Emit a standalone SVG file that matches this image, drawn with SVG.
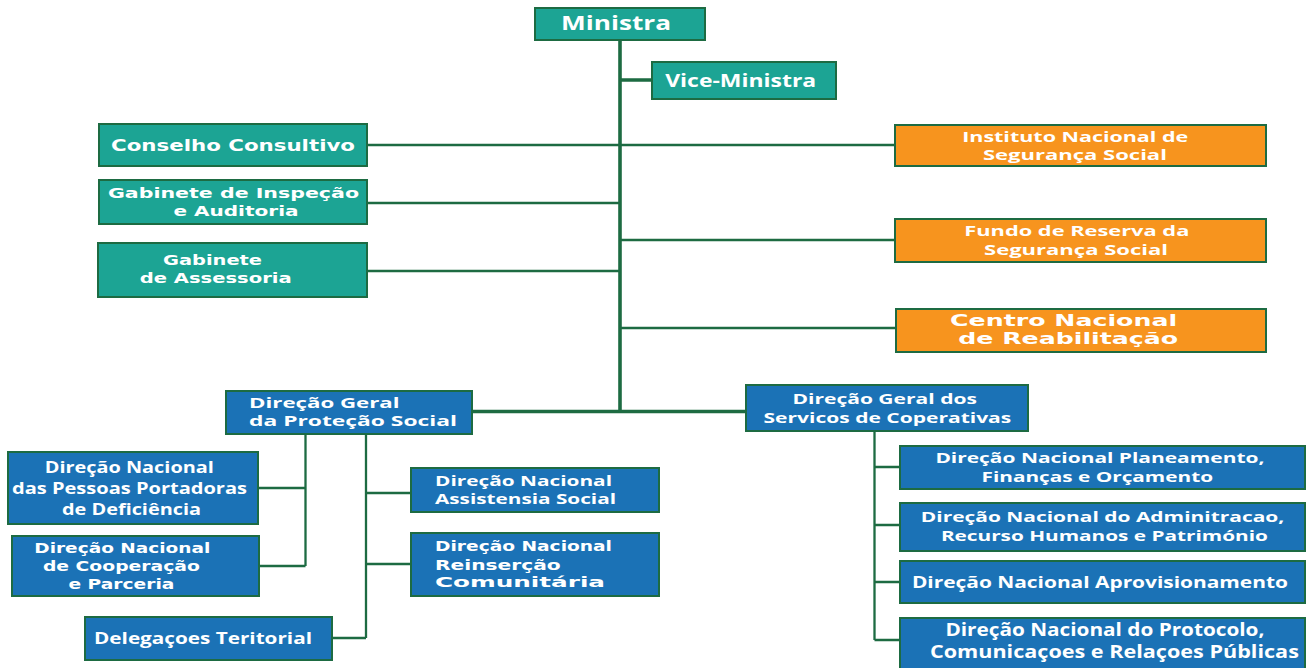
<svg xmlns="http://www.w3.org/2000/svg" width="1307" height="668" viewBox="0 0 1307 668">
<style>
.bx{stroke:#1d6b42;stroke-width:2}
.tl{fill:#1ca494}
.or{fill:#f7941e}
.bl{fill:#1b72b6}
.ln{stroke:#1d6b42;fill:none}
.thin{stroke-width:2.3}
.thick{stroke-width:3.6}
text{fill:#ffffff;font-weight:bold}
.c{font-family:"Open Sans","Liberation Sans",sans-serif;font-size:15px}
.v{font-family:"DejaVu Sans","Liberation Sans",sans-serif;font-size:14px}
.m{text-anchor:middle}
</style>
<rect width="1307" height="668" fill="#ffffff"/>
<g id="connectors">
<path class="ln thick" d="M620,40 V413 M620,80 H652 M472,411.5 H746"/>
<path class="ln thin" d="M367,145 H895 M367,203 H620 M620,240 H895 M367,271 H620 M620,328 H896"/>
<path class="ln thin" d="M305.5,434 V566 M258,488 H305.5 M259,566 H305.5 M366,434 V638 M366,493 H411 M366,564 H411 M332,638 H366"/>
<path class="ln thin" d="M874.5,431 V640 M874.5,467 H900 M874.5,525 H900 M874.5,582 H900 M874.5,640 H900"/>
</g>
<g id="ministra"><rect class="bx tl" x="535" y="8" width="170" height="32"/><text class="c m" x="616" y="30" style="font-size:19px" textLength="110" lengthAdjust="spacingAndGlyphs">Ministra</text></g>
<g id="vice-ministra"><rect class="bx tl" x="652" y="62" width="184" height="37"/><text class="c m" x="740.7" y="87" style="font-size:17px" textLength="151" lengthAdjust="spacingAndGlyphs">Vice-Ministra</text></g>
<g id="conselho"><rect class="bx tl" x="99" y="124" width="268" height="42"/><text class="v m" x="233" y="150.5" style="font-size:15.5px" textLength="244" lengthAdjust="spacingAndGlyphs">Conselho Consultivo</text></g>
<g id="gabinete-inspecao"><rect class="bx tl" x="99" y="180" width="268" height="44"/><text class="v m" x="233.5" y="197.5" textLength="251" lengthAdjust="spacingAndGlyphs">Gabinete de Inspeção</text><text class="v m" x="236" y="216" textLength="125" lengthAdjust="spacingAndGlyphs">e Auditoria</text></g>
<g id="gabinete-assessoria"><rect class="bx tl" x="98" y="243" width="269" height="54"/><text class="v m" x="212.5" y="264.5" textLength="99" lengthAdjust="spacingAndGlyphs">Gabinete</text><text class="v m" x="215.7" y="283" textLength="152" lengthAdjust="spacingAndGlyphs">de Assessoria</text></g>
<g id="instituto"><rect class="bx or" x="895" y="125" width="371" height="41"/><text class="c m" x="1075.2" y="141.5" textLength="226" lengthAdjust="spacingAndGlyphs">Instituto Nacional de</text><text class="c m" x="1074.9" y="160" textLength="184" lengthAdjust="spacingAndGlyphs">Segurança Social</text></g>
<g id="fundo"><rect class="bx or" x="895" y="219" width="371" height="43"/><text class="c m" x="1076.8" y="236" textLength="225" lengthAdjust="spacingAndGlyphs">Fundo de Reserva da</text><text class="c m" x="1076" y="255" textLength="184" lengthAdjust="spacingAndGlyphs">Segurança Social</text></g>
<g id="centro"><rect class="bx or" x="896" y="309" width="370" height="43"/><text class="v m" x="1063.6" y="326" style="font-size:15px" textLength="227" lengthAdjust="spacingAndGlyphs">Centro Nacional</text><text class="v m" x="1068.2" y="344" style="font-size:15px" textLength="220" lengthAdjust="spacingAndGlyphs">de Reabilitação</text></g>
<g id="dg-protecao-social"><rect class="bx bl" x="226" y="391" width="246" height="43"/><text class="c" x="249" y="407.5" textLength="150.6" lengthAdjust="spacingAndGlyphs">Direção Geral</text><text class="c" x="249" y="426" textLength="208" lengthAdjust="spacingAndGlyphs">da Proteção Social</text></g>
<g id="dn-pessoas"><rect class="bx bl" x="8" y="452" width="250" height="72"/><text class="c m" x="129.3" y="472.5" style="font-size:16px" textLength="169" lengthAdjust="spacingAndGlyphs">Direção Nacional</text><text class="c m" x="129.5" y="493.5" style="font-size:16px" textLength="235" lengthAdjust="spacingAndGlyphs">das Pessoas Portadoras</text><text class="c m" x="131.5" y="515" style="font-size:16px" textLength="139" lengthAdjust="spacingAndGlyphs">de Deficiência</text></g>
<g id="dn-cooperacao"><rect class="bx bl" x="12" y="536" width="247" height="60"/><text class="v m" x="122.3" y="552.5" textLength="176" lengthAdjust="spacingAndGlyphs">Direção Nacional</text><text class="v m" x="121.4" y="570.8" textLength="157" lengthAdjust="spacingAndGlyphs">de Cooperação</text><text class="v m" x="121.4" y="589" textLength="106" lengthAdjust="spacingAndGlyphs">e Parceria</text></g>
<g id="delegacoes"><rect class="bx bl" x="85" y="617" width="247" height="43"/><text class="c m" x="203" y="643.5" style="font-size:16px" textLength="218" lengthAdjust="spacingAndGlyphs">Delegaçoes Teritorial</text></g>
<g id="dn-assistencia"><rect class="bx bl" x="411" y="468" width="248" height="44"/><text class="c" x="435" y="485.5" textLength="177" lengthAdjust="spacingAndGlyphs">Direção Nacional</text><text class="c" x="435" y="504" textLength="181" lengthAdjust="spacingAndGlyphs">Assistensia Social</text></g>
<g id="dn-reinsercao"><rect class="bx bl" x="411" y="533" width="248" height="63"/><text class="v" x="435" y="551" textLength="177" lengthAdjust="spacingAndGlyphs">Direção Nacional</text><text class="v" x="435" y="569.5" textLength="125.7" lengthAdjust="spacingAndGlyphs">Reinserção</text><text class="v" x="435" y="587" textLength="170" lengthAdjust="spacingAndGlyphs">Comunitária</text></g>
<g id="dg-servicos"><rect class="bx bl" x="746" y="385" width="282" height="46"/><text class="c m" x="884.7" y="403.5" textLength="184.5" lengthAdjust="spacingAndGlyphs">Direção Geral dos</text><text class="c m" x="887.4" y="422.5" textLength="247.7" lengthAdjust="spacingAndGlyphs">Servicos de Coperativas</text></g>
<g id="dn-planeamento"><rect class="bx bl" x="900" y="446" width="405" height="43"/><text class="c m" x="1099.9" y="463" textLength="329" lengthAdjust="spacingAndGlyphs">Direção Nacional Planeamento,</text><text class="c m" x="1097.3" y="481.5" textLength="231.5" lengthAdjust="spacingAndGlyphs">Finanças e Orçamento</text></g>
<g id="dn-administracao"><rect class="bx bl" x="900" y="503" width="405" height="48"/><text class="c m" x="1102.5" y="522" textLength="363.5" lengthAdjust="spacingAndGlyphs">Direção Nacional do Adminitracao,</text><text class="c m" x="1104.4" y="541" textLength="327" lengthAdjust="spacingAndGlyphs">Recurso Humanos e Património</text></g>
<g id="dn-aprovisionamento"><rect class="bx bl" x="900" y="561" width="405" height="42"/><text class="c m" x="1099.9" y="587.5" style="font-size:16px" textLength="376" lengthAdjust="spacingAndGlyphs">Direção Nacional Aprovisionamento</text></g>
<g id="dn-protocolo"><rect class="bx bl" x="900" y="618" width="405" height="52"/><text class="c m" x="1104.9" y="636" style="font-size:17px" textLength="319" lengthAdjust="spacingAndGlyphs">Direção Nacional do Protocolo,</text><text class="c m" x="1114.4" y="658" style="font-size:17px" textLength="369" lengthAdjust="spacingAndGlyphs">Comunicaçoes e Relaçoes Públicas</text></g>
</svg>
